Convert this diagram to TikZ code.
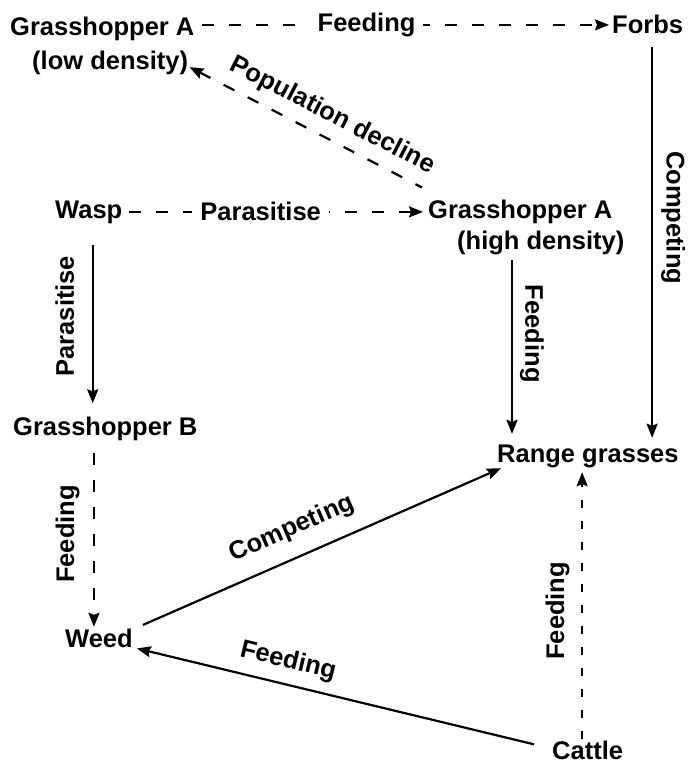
\documentclass[tikz,border=0pt]{standalone}
\usepackage{fontspec}
\setmainfont{Liberation Sans}
\usetikzlibrary{arrows.meta,calc}
\begin{document}
\begin{tikzpicture}[x=1pt,y=-1pt,
  every node/.style={font=\fontsize{25.5}{32}\selectfont\bfseries, inner sep=0pt, text=black},
  >={Stealth[length=14pt,width=11pt,inset=2pt]},
  link/.style={line width=2.2pt},
  dlink/.style={link, dash pattern=on 12pt off 15pt},
  gap/.style={fill=white, inner xsep=8pt, inner ysep=2pt},
]
\useasboundingbox (0,0) rectangle (688,765);

% organisms
\node[anchor=north west, align=left] (glow) at (10,17) {Grasshopper A\\[2pt]\hspace*{22pt}(low density)};
\node[anchor=base west] (forbs) at (612,34) {Forbs};
\node[anchor=base west] (wasp) at (55,218) {Wasp};
\node[anchor=north west, align=left] (ghigh) at (428,199.5) {Grasshopper A\\[-1pt]\hspace*{29pt}(high density)};
\node[anchor=base west] (gB) at (13,435) {Grasshopper B};
\node[anchor=base west] (range) at (497,462) {Range grasses};
\node[anchor=base west] (weed) at (65,647) {Weed};
\node[anchor=base west] (cattle) at (552,759) {Cattle};

% interactions
\draw[dlink,->] ($(glow.north east |- forbs.west)+(7,0)$) -- ($(forbs.west)+(-3,0)$)
  node[gap, pos=0.405] (lf1) {Feeding};

\draw[link,->] ($(forbs.south)+(4.5,13)$) -- ($(forbs.south |- range.north)+(4.5,-6.5)$)
  node[pos=0.436, xshift=21pt, rotate=-90] (lc1) {Competing};

\draw[dlink,<-] ($(glow.south east)+(-5,-8)$) -- ($(ghigh.north west)+(-6,-12)$)
  node[pos=0.569, sloped, above=9.6pt] (lp) {Population decline};

\draw[dlink,->] ($(wasp.east)+(7,0)$) -- ($(ghigh.north west |- wasp.east)+(-5,0)$)
  node[gap, pos=0.447] (lpa) {Parasitise};

\draw[link,->] ($(wasp.south)+(4,22)$) -- ($(wasp.south |- gB.north)+(4,-13)$)
  node[pos=0.448, xshift=-28pt, rotate=90] (lpb) {Parasitise};

\draw[dlink,->] ($(weed.north |- gB.south)+(-5,12.6)$) -- ($(weed.north)+(-5,-1.5)$)
  node[pos=0.466, xshift=-26.5pt, rotate=90] (lfb) {Feeding};

\draw[link,->] ($(ghigh.north west |- ghigh.south)+(84,5.6)$) -- ($(ghigh.north west |- range.north)+(84,-10.4)$)
  node[pos=0.423, xshift=20pt, rotate=-90] (lfg) {Feeding};

\draw[link,->] ($(weed.north east)+(10,-3.4)$) -- ($(range.south west)+(4,0.6)$)
  node[pos=0.448, sloped, above=15pt] (lcw) {Competing};

\draw[link,<-] ($(weed.south east)+(4,1)$) -- ($(cattle.north west)+(-18,4)$)
  node[pos=0.367, sloped, above=10pt] (lfc) {Feeding};

\draw[dlink, dash pattern=on 8pt off 13pt, ->] ($(cattle.north)+(-5.5,-1)$) -- ($(cattle.north |- range.south)+(-5.5,4.6)$)
  node[pos=0.481, xshift=-24.5pt, rotate=90] (lfr) {Feeding};
\end{tikzpicture}
\end{document}
